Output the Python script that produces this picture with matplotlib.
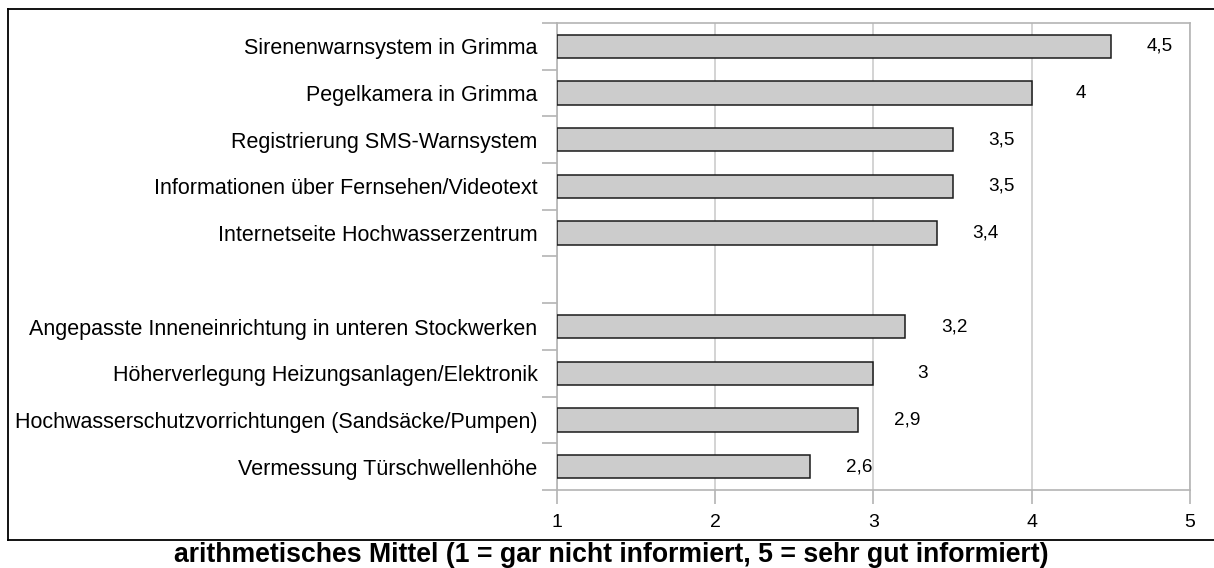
import matplotlib.pyplot as plt
from matplotlib.lines import Line2D

plt.rcParams['font.family'] = ['Liberation Sans', 'DejaVu Sans']

# Upper block (information sources) and lower block (precautions)
info_labels = [
    'Sirenenwarnsystem in Grimma',
    'Pegelkamera in Grimma',
    'Registrierung SMS-Warnsystem',
    'Informationen über Fernsehen/Videotext',
    'Internetseite Hochwasserzentrum',
]
info_values = [4.5, 4.0, 3.5, 3.5, 3.4]

measure_labels = [
    'Angepasste Inneneinrichtung in unteren Stockwerken',
    'Höherverlegung Heizungsanlagen/Elektronik',
    'Hochwasserschutzvorrichtungen (Sandsäcke/Pumpen)',
    'Vermessung Türschwellenhöhe',
]
measure_values = [3.2, 3.0, 2.9, 2.6]

x_ticks = [1, 2, 3, 4, 5]
x_label = 'arithmetisches Mittel (1 = gar nicht informiert, 5 = sehr gut informiert)'

W, H = 1214, 568
GRAY = '#b4b4b4'


def fmt(v):
    return f"{v:g}".replace('.', ',')


def main():
    labels = info_labels + [''] + measure_labels
    values = info_values + [None] + measure_values
    pos = list(range(len(labels)))

    fig = plt.figure(figsize=(W / 100, H / 100), dpi=100)
    ax = fig.add_axes([557 / W, 1 - 490 / H, (1190 - 557) / W, (490 - 23) / H])

    for p, v in zip(pos, values):
        if v is None:
            continue
        ax.barh(p, v - 1, left=1, height=0.5, color='#cccccc',
                edgecolor='#1a1a1a', linewidth=1.1, zorder=3)
        ax.text(v + 0.31, p, fmt(v), ha='center', va='center', fontsize=13.6)

    ax.set_xlim(1, 5)
    ax.set_ylim(len(labels) - 0.5, -0.5)
    ax.set_xticks(x_ticks)
    ax.set_xticklabels([str(t) for t in x_ticks], fontsize=14)
    ax.set_yticks(pos)
    ax.set_yticklabels(labels, fontsize=15.5)
    ax.set_yticks([p - 0.5 for p in pos] + [len(pos) - 0.5], minor=True)
    ax.tick_params(axis='y', which='major', length=0, pad=14)
    ax.tick_params(axis='y', which='minor', length=11, color=GRAY, width=1.2)
    ax.tick_params(axis='x', length=10, color=GRAY, width=1.2, pad=7)
    ax.grid(axis='x', color='#c8c8c8', linewidth=1.1, zorder=0)
    for s in ax.spines.values():
        s.set_color(GRAY)
        s.set_linewidth(1.2)

    fig.text(611 / W, 1 - 555 / H, x_label, ha='center', va='center',
             fontsize=19.2, fontweight='bold')

    # black outer frame (right side runs off the canvas)
    kw = dict(color='black', linewidth=1.3, transform=fig.transFigure)
    fig.add_artist(Line2D([8 / W, 1.01], [1 - 9 / H] * 2, **kw))
    fig.add_artist(Line2D([8 / W] * 2, [1 - 9 / H, 1 - 540 / H], **kw))
    fig.add_artist(Line2D([8 / W, 1.01], [1 - 540 / H] * 2, **kw))

    fig.savefig('out.png', dpi=100)


if __name__ == '__main__':
    main()
